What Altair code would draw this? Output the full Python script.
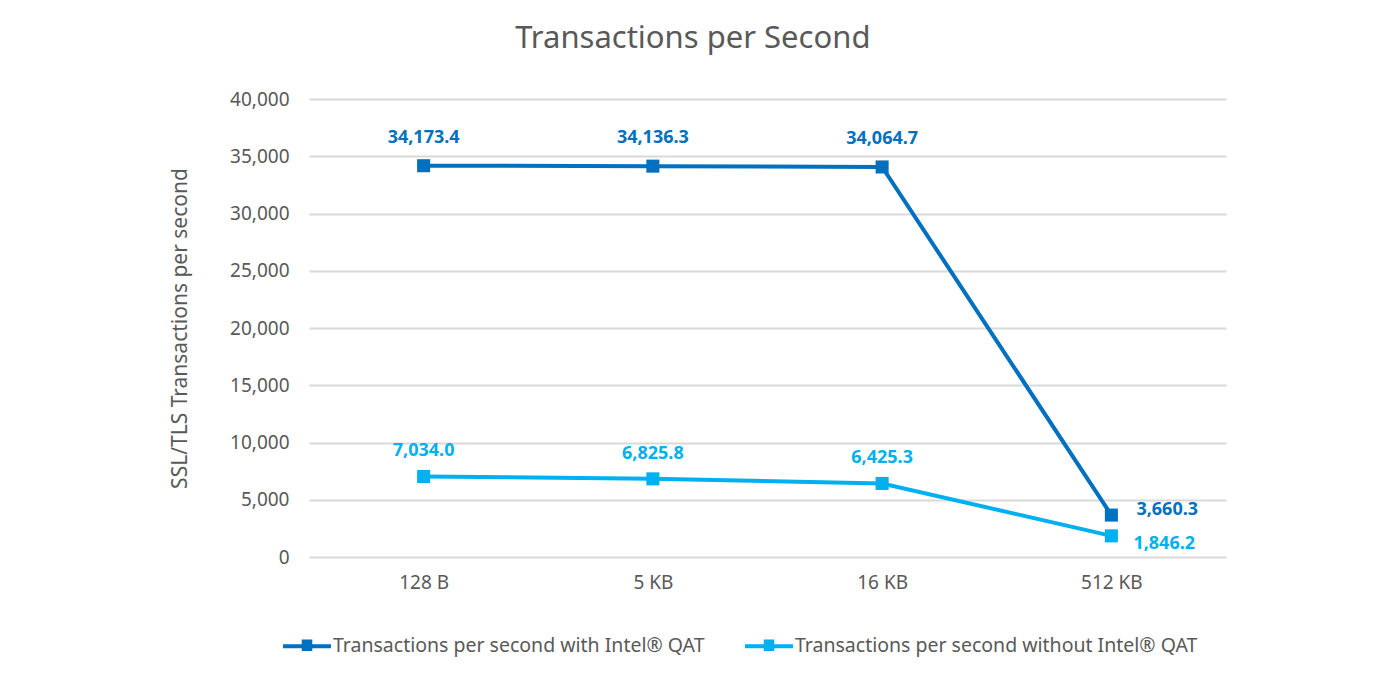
import altair as alt
import pandas as pd

categories = ["128 B", "5 KB", "16 KB", "512 KB"]
series_names = ["Transactions per second with Intel® QAT",
                "Transactions per second without Intel® QAT"]
with_qat = [34173.4, 34136.3, 34064.7, 3660.3]
without_qat = [7034.0, 6825.8, 6425.3, 1846.2]
colors = ["#0070C0", "#00B0F0"]

rows = []
for i, c in enumerate(categories):
    rows.append({"cat": c, "series": series_names[0], "value": with_qat[i], "idx": i})
    rows.append({"cat": c, "series": series_names[1], "value": without_qat[i], "idx": i})
df = pd.DataFrame(rows)

FONT = "Noto Sans"
GREY = "#595959"

x = alt.X("cat:N", sort=categories, scale=alt.Scale(paddingOuter=0.5, paddingInner=0),
          axis=alt.Axis(title=None, labelAngle=0, labelFontSize=19, labelColor=GREY,
                        labelFont=FONT, labelPadding=16, ticks=False, domain=False, grid=False))
y = alt.Y("value:Q", scale=alt.Scale(domain=[0, 40000]),
          axis=alt.Axis(title="SSL/TLS Transactions per second", values=list(range(0, 40001, 5000)),
                        format=",.0f", labelFontSize=19, labelColor=GREY, labelFont=FONT,
                        labelPadding=20, ticks=False, domain=False, gridColor="#D9D9D9",
                        gridWidth=2, titleFontSize=21, titleColor=GREY, titleFont=FONT,
                        titleFontWeight="normal", titlePadding=39))
color = alt.Color("series:N", sort=series_names,
                  scale=alt.Scale(domain=series_names, range=colors),
                  legend=alt.Legend(title=None, orient="none", legendX=-26, legendY=523,
                                    direction="horizontal", columns=2, columnPadding=40,
                                    labelFontSize=19.5, labelColor=GREY, labelFont=FONT,
                                    labelLimit=0, labelOffset=2, symbolStrokeWidth=0, symbolSize=2304,
                                    symbolType="M-1,-0.08H1V0.08H-1Z M-0.22,-0.28H0.22V0.2H-0.22Z"))

base = alt.Chart(df).encode(x=x, y=y, color=color)
lines = base.mark_line(strokeWidth=4)
points = base.mark_point(shape="square", filled=True, size=170, opacity=1)

lab_enc = dict(x=x, y=y, text=alt.Text("value:Q", format=",.1f"),
               color=alt.Color("series:N", scale=alt.Scale(domain=series_names, range=colors), legend=None))
LS = 18
lab_dark = alt.Chart(df).transform_filter(
    (alt.datum.series == series_names[0]) & (alt.datum.idx < 3)
).mark_text(dy=-28, fontSize=LS, fontWeight="bold", font=FONT).encode(**lab_enc)
lab_light = alt.Chart(df).transform_filter(
    (alt.datum.series == series_names[1]) & (alt.datum.idx < 3)
).mark_text(dy=-25, fontSize=LS, fontWeight="bold", font=FONT).encode(**lab_enc)
lab_dark_last = alt.Chart(df).transform_filter(
    (alt.datum.series == series_names[0]) & (alt.datum.idx == 3)
).mark_text(dx=25, dy=-5, align="left", fontSize=LS, fontWeight="bold", font=FONT).encode(**lab_enc)
lab_light_last = alt.Chart(df).transform_filter(
    (alt.datum.series == series_names[1]) & (alt.datum.idx == 3)
).mark_text(dx=22, dy=8, align="left", fontSize=LS, fontWeight="bold", font=FONT).encode(**lab_enc)

chart = alt.layer(lines, points, lab_dark, lab_light, lab_dark_last, lab_light_last).properties(
    width=917, height=458,
    title=alt.TitleParams("Transactions per Second", fontSize=31, color=GREY, font=FONT,
                          fontWeight="normal", anchor="middle", frame="bounds", offset=35, dx=-5),
    padding={"left": 161, "top": 15, "right": 120, "bottom": 5},
    background="white",
).configure_view(stroke=None)

chart.save("out.html", embed_options={"renderer": "svg", "actions": False})
